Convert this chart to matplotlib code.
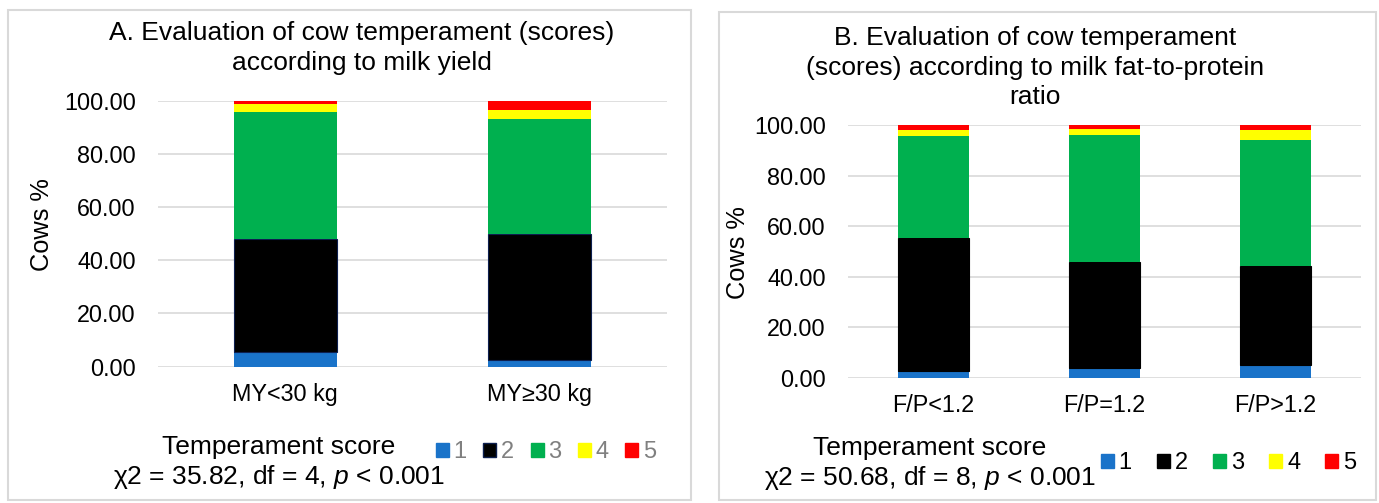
import numpy as np
import matplotlib
matplotlib.use('Agg')
import matplotlib.pyplot as plt
from matplotlib.patches import Rectangle, Patch

plt.rcParams['font.family'] = ['Liberation Sans', 'DejaVu Sans']
plt.rcParams['mathtext.fontset'] = 'custom'
plt.rcParams['mathtext.rm'] = 'Liberation Sans'
plt.rcParams['mathtext.it'] = 'Liberation Sans:italic'

# panel A: milk yield
cats_a = ['MY<30 kg', 'MY≥30 kg']
a_score1 = [5.4, 2.4]
a_score2 = [42.5, 47.6]
a_score3 = [48.0, 43.1]
a_score4 = [2.7, 3.5]
a_score5 = [1.4, 3.4]

# panel B: fat-to-protein ratio
cats_b = ['F/P<1.2', 'F/P=1.2', 'F/P>1.2']
b_score1 = [2.5, 3.8, 5.2]
b_score2 = [52.7, 42.0, 39.2]
b_score3 = [40.3, 50.4, 49.7]
b_score4 = [2.4, 2.1, 4.1]
b_score5 = [2.1, 1.7, 1.8]

score_labels = ['1', '2', '3', '4', '5']
colors = ['#1a73c9', '#000000', '#00b04f', '#ffff00', '#ff0000']
grid_col = '#d9d9d9'

W, H = 1379, 503
fig = plt.figure(figsize=(W / 100, H / 100), dpi=100)


def fx(px):
    return px / W


def fy(py):
    return 1 - py / H


# panel frames
for x0, y0, x1, y1 in [(8, 10, 691, 500), (719, 12, 1376, 500)]:
    fig.add_artist(Rectangle((fx(x0), fy(y1)), fx(x1 - x0), (y1 - y0) / H,
                             transform=fig.transFigure, fill=False,
                             edgecolor=grid_col, lw=1.5))


def draw_panel(ax, cats, series, width, edge2):
    x = np.arange(len(cats))
    bottom = np.zeros(len(cats))
    for i, vals in enumerate(series):
        vals = np.array(vals)
        ec = edge2 if i == 1 else colors[i]
        ax.bar(x, vals, width, bottom=bottom, color=colors[i],
               edgecolor=ec, linewidth=0.8 if i == 1 else 0, zorder=3)
        bottom += vals
    ax.set_xlim(-0.5, len(cats) - 0.5)
    ax.set_ylim(0, 100)
    ax.set_yticks(np.arange(0, 101, 20))
    ax.set_yticklabels([f'{v:.2f}' for v in np.arange(0, 101, 20)])
    ax.set_xticks(x)
    ax.set_xticklabels(cats)
    ax.tick_params(axis='both', length=0, labelsize=16.8, colors='#000000')
    ax.tick_params(axis='y', pad=16)
    ax.tick_params(axis='x', pad=11.5)
    for s in ax.spines.values():
        s.set_visible(False)
    ax.yaxis.grid(True, color=grid_col, lw=1.2, zorder=0)
    ax.set_axisbelow(True)
    ax.patch.set_alpha(0)


ax_a = fig.add_axes([fx(158), fy(366.7), fx(667 - 158), (366.7 - 100.7) / H])
draw_panel(ax_a, cats_a, [a_score1, a_score2, a_score3, a_score4, a_score5],
           0.405, '#0d1f4f')
ax_b = fig.add_axes([fx(848), fy(377.7), fx(1361 - 848), (377.7 - 125) / H])
draw_panel(ax_b, cats_b, [b_score1, b_score2, b_score3, b_score4, b_score5],
           0.41, '#000000')

# titles
fig.text(fx(362), fy(48), 'A. Evaluation of cow temperament (scores)\naccording to milk yield',
         ha='center', va='center', fontsize=19, linespacing=1.3)
fig.text(fx(1035), fy(67.5), 'B. Evaluation of cow temperament\n(scores) according to milk fat-to-protein\nratio',
         ha='center', va='center', fontsize=19, linespacing=1.3)

# y labels
fig.text(fx(42), fy(225), 'Cows %', rotation=90, ha='center', va='center', fontsize=18.3)
fig.text(fx(738), fy(252.5), 'Cows %', rotation=90, ha='center', va='center', fontsize=18.3)

# legend titles and test statistics
fig.text(fx(279), fy(463), 'Temperament score\nχ2 = 35.82, df = 4, $p$ < 0.001',
         ha='center', va='center', fontsize=19, linespacing=1.18)
fig.text(fx(930), fy(464), 'Temperament score\nχ2 = 50.68, df = 8, $p$ < 0.001',
         ha='center', va='center', fontsize=19, linespacing=1.18)

handles_a = [Patch(facecolor=c, edgecolor=('#0d1f4f' if i == 1 else c))
             for i, c in enumerate(colors)]
handles_b = [Patch(facecolor=c, edgecolor=c) for c in colors]

leg_a = fig.legend(handles_a, score_labels, loc='center left',
                   bbox_to_anchor=(fx(436), fy(452)), ncol=5, frameon=False,
                   fontsize=17, handlelength=0.55, handleheight=0.55,
                   handletextpad=0.2, columnspacing=0.7, borderpad=0,
                   borderaxespad=0)
for t in leg_a.get_texts():
    t.set_color('#808080')

leg_b = fig.legend(handles_b, score_labels, loc='center left',
                   bbox_to_anchor=(fx(1101), fy(463)), ncol=5, frameon=False,
                   fontsize=17, handlelength=0.55, handleheight=0.55,
                   handletextpad=0.2, columnspacing=1.07, borderpad=0,
                   borderaxespad=0)

fig.savefig('out.png', dpi=100)
